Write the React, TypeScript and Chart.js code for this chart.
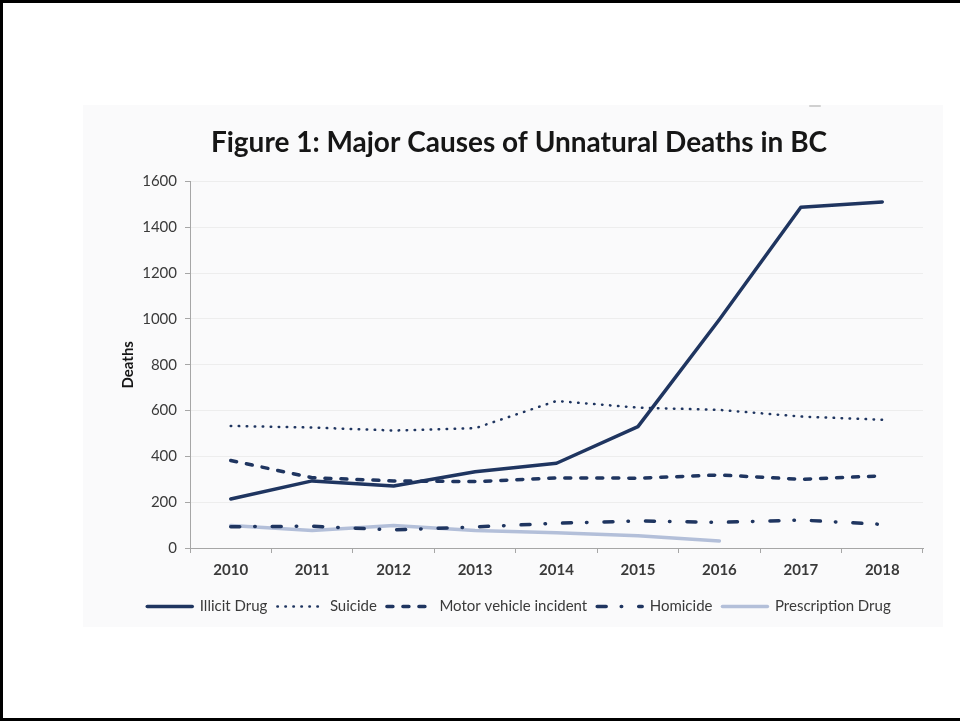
import React, { useEffect, useRef } from 'react';
import { Chart, registerables } from 'chart.js';

Chart.register(...registerables);

// Years on the category axis
const years = ['2010', '2011', '2012', '2013', '2014', '2015', '2016', '2017', '2018'];

// Deaths per year by cause
const illicitDrug = [214, 293, 271, 333, 370, 530, 998, 1488, 1511];
const suicide = [533, 526, 513, 523, 642, 613, 603, 574, 560];
const motorVehicle = [382, 307, 293, 290, 306, 305, 319, 300, 315];
const homicide = [93, 95, 79, 92, 108, 118, 112, 122, 103];
const prescriptionDrug = [98, 76, 98, 76, 67, 54, 31, null, null];

// Value axis range
const yMin = 0;
const yMax = 1600;
const yStep = 200;

const FONT = 'Lato, "Open Sans", sans-serif';
const NAVY = '#1f3560';
const LIGHT = '#b3bfd9';
const AXIS = '#a6a6a6';
const TEXT = '#3a3a3a';

export default function App() {
  const ref = useRef<HTMLCanvasElement>(null);

  useEffect(() => {
    document.body.style.margin = '0';
    const common = {
      fill: false,
      pointRadius: 0,
      pointHoverRadius: 0,
      pointStyle: 'line' as const,
      tension: 0,
      borderJoinStyle: 'round' as const,
    };
    const chart = new Chart(ref.current!, {
      type: 'line',
      data: {
        labels: years,
        datasets: [
          { ...common, label: 'Illicit Drug', data: illicitDrug, borderColor: NAVY, backgroundColor: NAVY, borderWidth: 3.5, borderCapStyle: 'round' },
          { ...common, label: 'Suicide', data: suicide, borderColor: NAVY, backgroundColor: NAVY, borderWidth: 2.5, borderDash: [0.5, 7.5], borderCapStyle: 'round' },
          { ...common, label: 'Motor vehicle incident', data: motorVehicle, borderColor: NAVY, backgroundColor: NAVY, borderWidth: 3.5, borderDash: [6, 10], borderCapStyle: 'round' },
          { ...common, label: 'Homicide', data: homicide, borderColor: NAVY, backgroundColor: NAVY, borderWidth: 3.5, borderDash: [9, 15, 0.5, 17], borderCapStyle: 'round' },
          { ...common, label: 'Prescription Drug', data: prescriptionDrug, borderColor: LIGHT, backgroundColor: LIGHT, borderWidth: 3.5, borderCapStyle: 'round', spanGaps: false },
        ],
      },
      options: {
        responsive: false,
        animation: false,
        layout: { padding: { left: 32, right: 20, top: 0, bottom: 0 } },
        plugins: {
          tooltip: { enabled: false },
          title: {
            display: true,
            text: 'Figure 1: Major Causes of Unnatural Deaths in BC',
            color: '#161616',
            font: { family: FONT, size: 28, weight: 'bold' },
            padding: { top: 21, bottom: 22 },
          },
          legend: {
            position: 'bottom',
            labels: {
              usePointStyle: true,
              pointStyleWidth: 45,
              color: TEXT,
              padding: 10,
              font: { family: FONT, size: 15 },
              // carry each series' stroke pattern into its legend sample
              generateLabels: (c: any) => {
                const items = (Chart.defaults as any).plugins.legend.labels.generateLabels(c);
                items.forEach((it: any) => {
                  const ds: any = c.data.datasets[it.datasetIndex];
                  it.lineDash = ds.borderDash || [];
                  it.lineCap = ds.borderCapStyle;
                  it.lineWidth = ds.borderWidth;
                  it.strokeStyle = ds.borderColor;
                });
                return items;
              },
            },
          },
        },
        scales: {
          x: {
            type: 'category',
            offset: true,
            afterFit: (s: any) => { s.height = 41; },
            grid: { offset: true, drawOnChartArea: false, drawTicks: true, tickLength: 5, tickColor: AXIS },
            border: { color: AXIS, width: 1 },
            ticks: { color: TEXT, padding: 8, font: { family: FONT, size: 15, weight: 'bold' }, maxRotation: 0 },
          },
          y: {
            min: yMin,
            max: yMax,
            afterFit: (s: any) => { s.width = 75; },
            grid: { color: '#ededed', lineWidth: 1, drawTicks: true, tickLength: 5, tickColor: AXIS },
            border: { color: AXIS, width: 1 },
            ticks: {
              stepSize: yStep,
              color: TEXT,
              padding: 8,
              font: { family: FONT, size: 15 },
              callback: (v: any) => String(v),
            },
            title: {
              display: true,
              text: 'Deaths',
              color: '#161616',
              padding: { top: 4, bottom: 4 },
              font: { family: FONT, size: 15, weight: 'bold' },
            },
          },
        },
      },
    });
    return () => chart.destroy();
  }, []);

  return (
    <div
      style={{
        position: 'relative',
        width: 960,
        height: 721,
        boxSizing: 'border-box',
        borderTop: '3px solid #000',
        borderLeft: '3px solid #000',
        borderBottom: '3px solid #000',
        background: '#fff',
        overflow: 'hidden',
      }}
    >
      <div style={{ position: 'absolute', left: 80, top: 102, width: 860, height: 522, background: '#fafafb' }} />
      <div style={{ position: 'absolute', left: 806, top: 102, width: 12, height: 2, borderRadius: 1, background: '#d0d0d0' }} />
      <canvas ref={ref} width={860} height={519} style={{ position: 'absolute', left: 80, top: 102 }} />
    </div>
  );
}
